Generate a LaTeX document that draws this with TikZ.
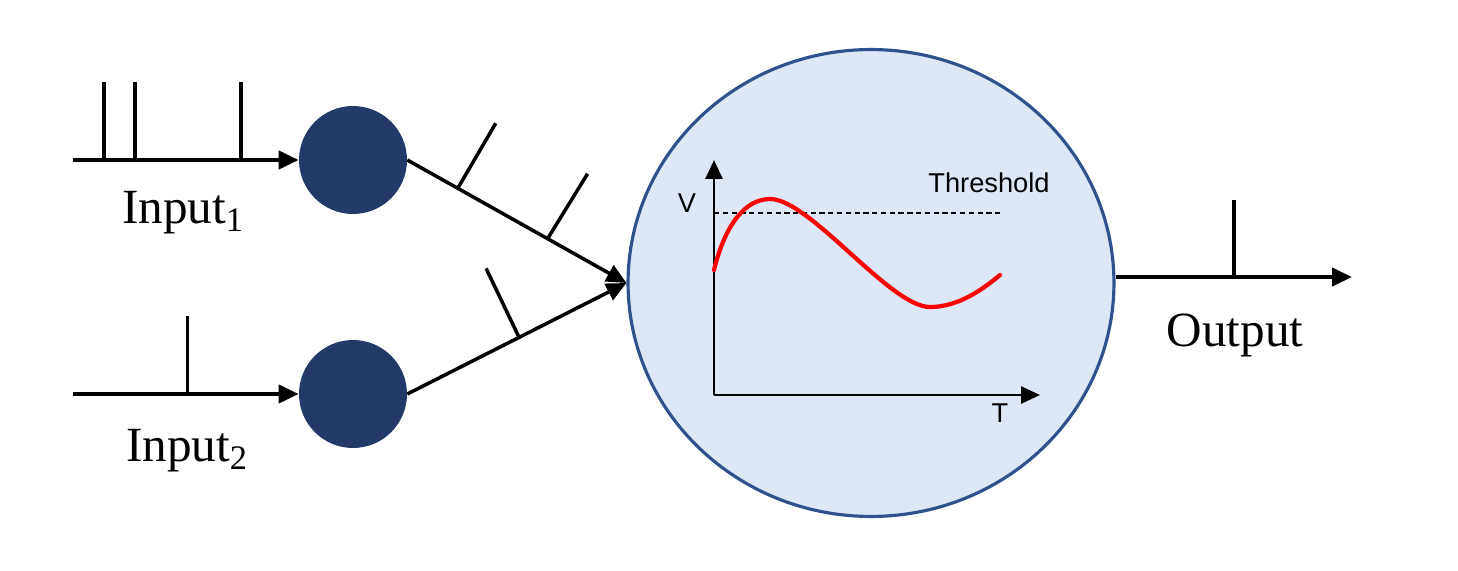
\documentclass[tikz,border=0pt]{standalone}
\usepackage{fontspec}
\usetikzlibrary{arrows.meta,shapes.geometric}
\setmainfont{Liberation Serif}
\newfontfamily\sansf{Liberation Sans}
\definecolor{navy}{HTML}{22396A}
\definecolor{rimblue}{HTML}{2F528F}
\definecolor{cellfill}{HTML}{DEE7F6}
\begin{document}
\begin{tikzpicture}[x=0.02cm,y=-0.02cm,
  tip/.style={-{Triangle[length=0.4cm,width=0.36cm]}},
  signal/.style={line width=2.4pt},
  spike/.style={line width=2pt},
  syn/.style={circle,fill=navy,minimum size=2.16cm,inner sep=0pt},
  cell/.style={ellipse,draw=rimblue,line width=1.8pt,fill=cellfill,minimum width=9.72cm,minimum height=9.34cm,inner sep=0pt},
  lbl/.style={font=\fontsize{28}{32}\selectfont},
  glbl/.style={font=\sansf\fontsize{15.5}{18}\selectfont},
  axis/.style={line width=1.6pt,-{Triangle[length=0.38cm,width=0.34cm]}}]
\useasboundingbox (0,0) rectangle (1458,571);
% nodes
\node[syn] (n1) at (353,160) {};
\node[syn] (n2) at (353,394) {};
\node[cell] (big) at (871,283) {};
\coordinate (i1) at (73,160);
\coordinate (i2) at (73,394);
\coordinate (out) at (1352,277);
% inputs
\draw[signal,tip] (i1) -- coordinate[pos=0.138](s1) coordinate[pos=0.274](s2) coordinate[pos=0.745](s3) (n1.west);
\draw[spike] (s1) -- ++(0,-78) (s2) -- ++(0,-78) (s3) -- ++(0,-78);
\draw[signal,tip] (i2) -- coordinate[pos=0.508](s4) (n2.west);
\draw[spike] (s4) -- ++(0,-78);
\node[lbl] (l1) at (183,213) {Input\textsubscript{1}};
\node[lbl] (l2) at (187,451) {Input\textsubscript{2}};
% synapse lines
\draw[spike,tip] (n1.east) -- coordinate[pos=0.23](t1) coordinate[pos=0.64](t2) (big.west);
\draw[spike] (t1) -- ++(38,-65) (t2) -- ++(40,-65);
\draw[spike,tip] (n2.east) -- coordinate[pos=0.51](t3) (big.west);
\draw[spike] (t3) -- ++(-33,-69);
% graph
\coordinate (o) at (714,395);
\coordinate (ytop) at (714,160);
\coordinate (xend) at (1040,395);
\draw[axis] (o) -- (ytop);
\draw[axis] (o) -- (xend);
\coordinate (th0) at (714,213);
\coordinate (th1) at (1000,213);
\draw[line width=0.7pt,dash pattern=on 3pt off 2pt] (th0) -- (th1);
\draw[red,line width=2.4pt,line cap=round] (714,270) .. controls (725,225) and (745,199) .. (770,199)
  .. controls (810,199) and (890,307) .. (930,307)
  .. controls (958,307) and (982,290) .. (1000,275);
\node[glbl] (vl) at (687,203) {V};
\node[glbl] (thl) at (989,183) {Threshold};
\node[glbl] (tl) at (1000,413) {T};
% output
\draw[signal,tip] (big.east |- out) -- coordinate[pos=0.5](s5) (out);
\draw[spike] (s5) -- ++(0,-77);
\node[lbl] (ol) at (1235,335) {Output};
\end{tikzpicture}
\end{document}
